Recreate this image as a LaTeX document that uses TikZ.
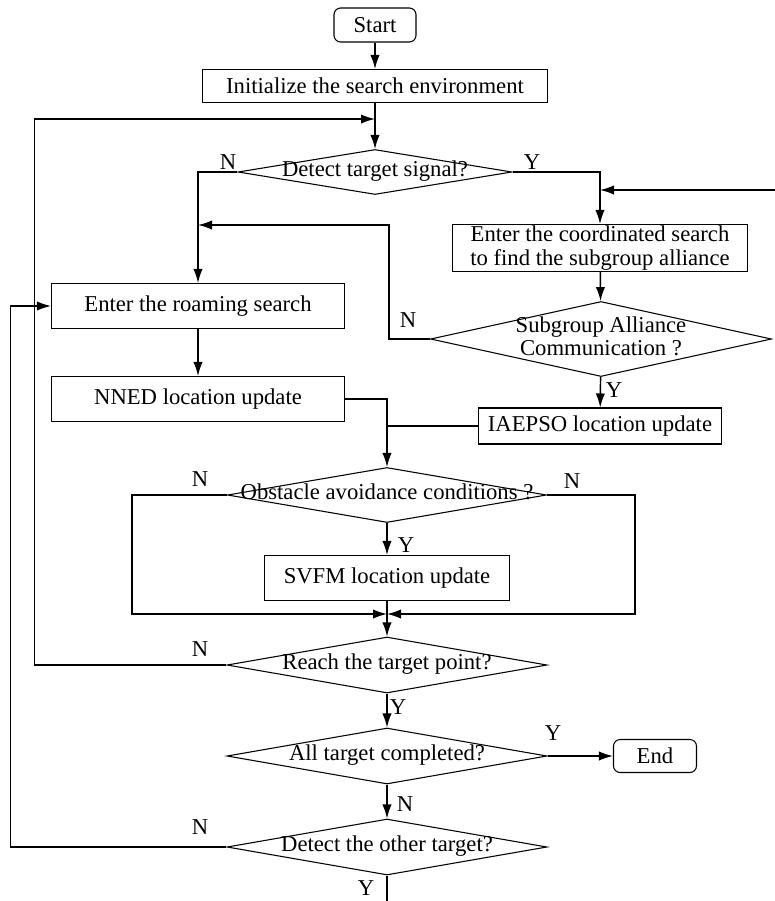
\documentclass[tikz,border=0pt]{standalone}
\usepackage{fontspec}
\setmainfont{Liberation Serif}
\usepackage{tikz}
\usetikzlibrary{positioning}
\usetikzlibrary{arrows.meta,shapes.geometric}
\tikzstyle{fc_t} = [rectangle, rounded corners=5pt, draw=black, line width=0.8pt, align=center, inner sep=0pt]
\tikzstyle{fc_b} = [rectangle, draw=black, line width=0.8pt, align=center, inner sep=0pt]
\tikzstyle{fc_d} = [diamond, draw=black, line width=0.8pt, inner sep=0pt]
\tikzstyle{fc_l} = [inner sep=0pt]
\newcommand{\dtext}[1]{\makebox[0pt]{\raisebox{-2pt}{\begin{tabular}{@{}c@{}}#1\end{tabular}}}}

\begin{document}
\begin{tikzpicture}[->,>={Latex[length=10.5pt,width=7pt]},x=0.75pt,y=-0.75pt,line width=1.1pt,font=\fontsize{17}{17.5}\selectfont]
\useasboundingbox (0,0) rectangle (775,901);
\node [fc_t, minimum width=61.5pt, minimum height=25.5pt] (start) at (375,25) {Start};
\node [fc_b, minimum width=258.75pt, minimum height=24.75pt] (init) at (375,86) {Initialize the search environment};
\node [fc_d, minimum width=205.5pt, minimum height=33.75pt] (d1) at (375,172) {\dtext{Detect target signal?}};
\node [fc_b, minimum width=221.25pt, minimum height=35.25pt] (coord) at (600,248) {Enter the coordinated search\\to find the subgroup alliance};
\node [fc_b, minimum width=219.75pt, minimum height=33.75pt] (roam) at (198,306) {Enter the roaming search};
\node [fc_d, minimum width=255.75pt, minimum height=56.25pt] (d2) at (601,339) {\dtext{Subgroup Alliance\\Communication ?}};
\node [fc_b, minimum width=219.75pt, minimum height=33.75pt] (nned) at (198,399) {NNED location update};
\node [fc_b, minimum width=182.25pt, minimum height=27pt] (iaepso) at (600,426) {IAEPSO location update};
\node [fc_d, minimum width=239.25pt, minimum height=41.25pt] (d3) at (387,495) {\dtext{Obstacle avoidance conditions ?}};
\node [fc_b, minimum width=183.75pt, minimum height=33.75pt] (svfm) at (387,578) {SVFM location update};
\node [fc_d, minimum width=240pt, minimum height=42pt] (d4) at (387,665) {\dtext{Reach the target point?}};
\node [fc_d, minimum width=240pt, minimum height=42pt] (d5) at (387,756) {\dtext{All target completed?}};
\node [fc_t, minimum width=62.25pt, minimum height=24.75pt] (endn) at (655,756) {End};
\node [fc_d, minimum width=240pt, minimum height=42pt] (d6) at (387,847) {\dtext{Detect the other target?}};

% joints
\coordinate (j1) at (375,119);
\coordinate (j2) at (198,225);
\coordinate (j3) at (387,614);
\coordinate (rin) at (775,190);
\coordinate (bot) at (387,901);

% yes / no labels
\node [fc_l] (l1) at (228,162) {N};
\node [fc_l] (l2) at (532,162) {Y};
\node [fc_l] (l3) at (408,320) {N};
\node [fc_l] (l4) at (614,390) {Y};
\node [fc_l] (l5) at (200,479) {N};
\node [fc_l] (l6) at (572,481) {N};
\node [fc_l] (l7) at (406,545) {Y};
\node [fc_l] (l8) at (200,649) {N};
\node [fc_l] (l9) at (398,707) {Y};
\node [fc_l] (l10) at (553,733) {Y};
\node [fc_l] (l11) at (405,804) {N};
\node [fc_l] (l12) at (200,827) {N};
\node [fc_l] (l13) at (366,888) {Y};

\draw (start) -- (init);
\draw (init) -- (d1);
\draw (d4.west) -- ++(-192,0) |- (j1);
\draw (d1.west) -| (roam.north);
\draw (d1.east) -| (coord.north);
\draw (rin) -- (rin -| coord.north);
\draw (coord) -- (d2);
\draw (d2.west) -- ++(-41,0) |- (j2);
\draw (d2) -- (iaepso);
\draw (roam) -- (nned);
\draw (nned.east) -| (d3.north);
\draw [-] (iaepso.west) -- (iaepso.west -| d3.north);
\draw (d3.west) -- ++(-95,0) |- (j3);
\draw (d3.east) -- ++(88,0) |- (j3);
\draw (d3) -- (svfm);
\draw (svfm) -- (d4);
\draw (d4) -- (d5);
\draw (d5) -- (endn);
\draw (d5) -- (d6);
\draw (d6.west) -- ++(-216,0) |- (roam.west);
\draw [-] (d6) -- (bot);
\end{tikzpicture}
\end{document}
